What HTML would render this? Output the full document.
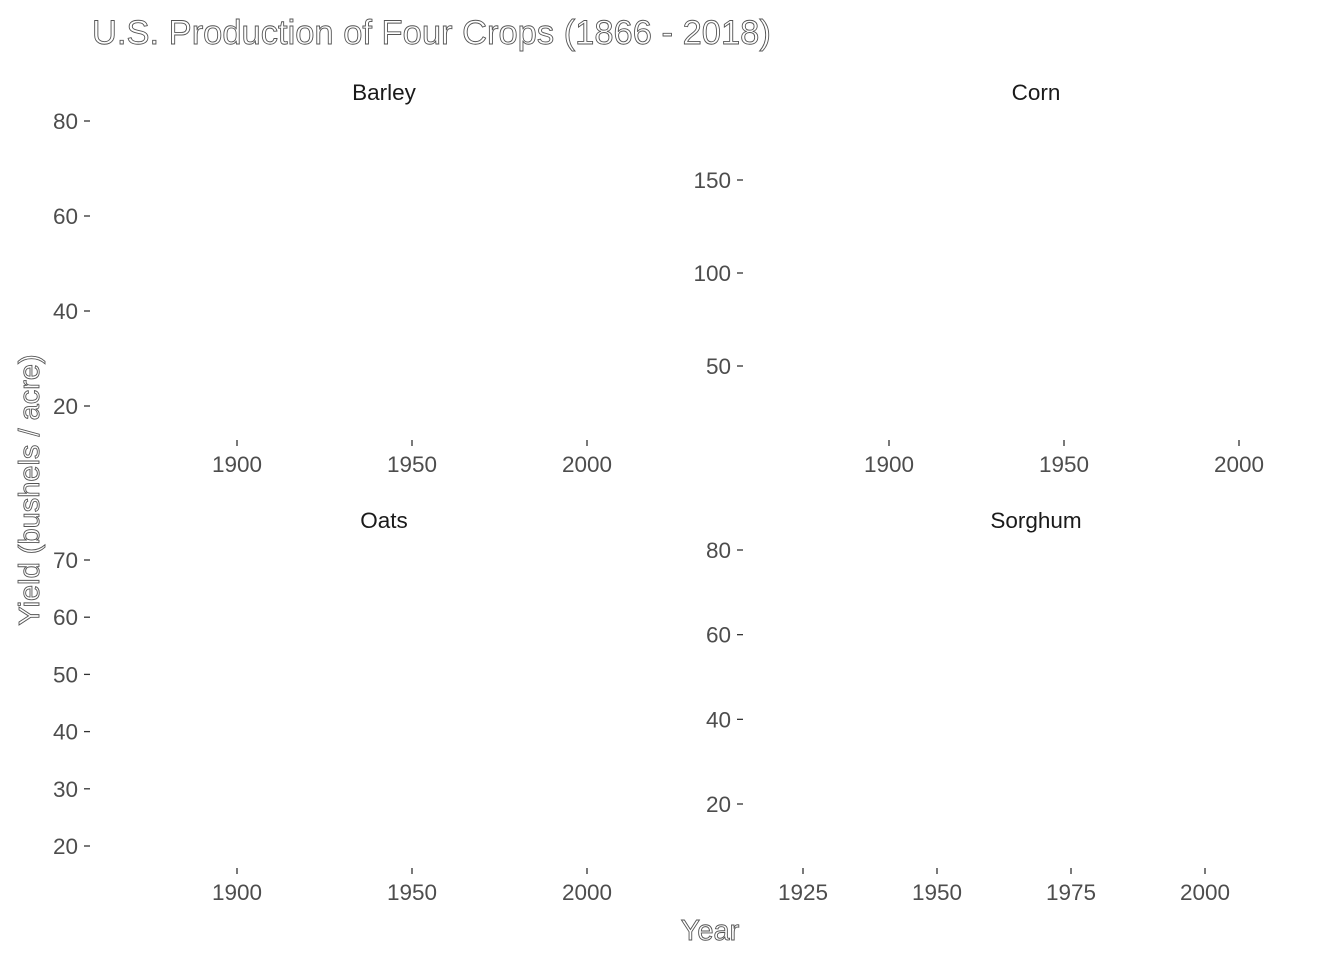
<!DOCTYPE html>
<html><head><meta charset="utf-8"><style>
html,body{margin:0;padding:0;background:#fff;}
svg{display:block;font-family:"Liberation Sans",Arial,sans-serif;}
.tl{fill:#4d4d4d;font-size:22.5px;}
.st{fill:#1a1a1a;font-size:22.5px;}
.ol{fill:#fff;stroke:#555;stroke-width:0.9;}
</style></head><body>
<svg id="chart" width="1344" height="960">
<text class="ol" x="92" y="44" font-size="34.5">U.S. Production of Four Crops (1866 - 2018)</text>
<text class="ol" x="710" y="940" font-size="29" text-anchor="middle">Year</text>
<text class="ol" font-size="29" text-anchor="middle" transform="translate(39,490) rotate(-90)">Yield (bushels / acre)</text>
<g id="panels"></g>
</svg>
<script>
const panelNames = ["Barley","Corn","Oats","Sorghum"];
const barleyYTicks = [20,40,60,80];
const cornYTicks = [50,100,150];
const oatsYTicks = [20,30,40,50,60,70];
const sorghumYTicks = [20,40,60,80];
const wideXTicks = [1900,1950,2000];
const sorghumXTicks = [1925,1950,1975,2000];

const NS="http://www.w3.org/2000/svg";
const g=document.getElementById('panels');
function mk(tag,attrs,txt){const e=document.createElementNS(NS,tag);for(const k in attrs)e.setAttribute(k,attrs[k]);if(txt!==undefined)e.textContent=txt;g.appendChild(e);return e;}
function lin(d0,d1,r0,r1){return v=>r0+(v-d0)*(r1-r0)/(d1-d0);}

const panels=[
 {name:panelNames[0],sx:384,sy:100,yt:barleyYTicks,y:lin(20,80,406,121),xt:wideXTicks,x:lin(1900,2000,237,587),axX:90,xAxY:440},
 {name:panelNames[1],sx:1036,sy:100,yt:cornYTicks,y:lin(50,150,366,180),xt:wideXTicks,x:lin(1900,2000,889,1239),axX:743,xAxY:440},
 {name:panelNames[2],sx:384,sy:528,yt:oatsYTicks,y:lin(20,70,846,560),xt:wideXTicks,x:lin(1900,2000,237,587),axX:90,xAxY:868},
 {name:panelNames[3],sx:1036,sy:528,yt:sorghumYTicks,y:lin(20,80,804,550),xt:sorghumXTicks,x:lin(1925,2000,803,1205),axX:743,xAxY:868}
];
panels.forEach(p=>{
 const k=p.name.toLowerCase();
 let e=mk('text',{class:'st',x:p.sx,y:p.sy,'text-anchor':'middle'},p.name);
 
 
 p.yt.forEach(v=>{
  const yy=p.y(v);
  let t=mk('text',{class:'tl',x:p.axX-12,y:yy+8,'text-anchor':'end'},String(v));
  
  
  let l=mk('line',{x1:p.axX-6,x2:p.axX,y1:yy,y2:yy,stroke:'#333','stroke-width':1.3});
  
  
 });
 p.xt.forEach(v=>{
  const xx=p.x(v);
  let l=mk('line',{x1:xx,x2:xx,y1:p.xAxY,y2:p.xAxY+6,stroke:'#333','stroke-width':1.3});
  
  
  let t=mk('text',{class:'tl',x:xx,y:p.xAxY+32,'text-anchor':'middle'},String(v));
  
  
 });
});
</script>
</body></html>
